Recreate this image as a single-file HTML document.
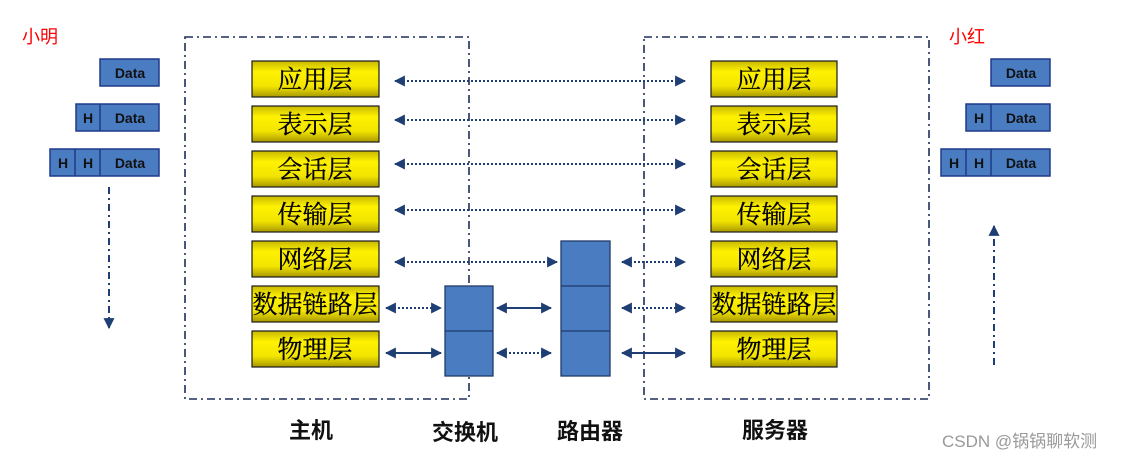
<!DOCTYPE html>
<html><head><meta charset="utf-8"><style>
body{margin:0;background:#fff;width:1129px;height:460px;overflow:hidden}
svg{display:block}
.ly{font-family:"Noto Serif CJK SC","Liberation Serif",serif;font-size:25px;fill:#000;stroke:#000;stroke-width:0.3}
.dt{font-family:"Liberation Sans",sans-serif;font-weight:bold;font-size:14px;fill:#111}
.lb{font-family:"Liberation Sans","Noto Sans CJK SC",sans-serif;font-weight:bold;font-size:22px;fill:#111}
</style></head><body>
<svg width="1129" height="460" xmlns="http://www.w3.org/2000/svg">
<defs>
<linearGradient id="y" x1="0" y1="0" x2="0" y2="1">
<stop offset="0" stop-color="#c8b800"/><stop offset="0.3" stop-color="#fff200"/><stop offset="0.7" stop-color="#f2e400"/><stop offset="1" stop-color="#a89800"/></linearGradient>
<marker id="a" viewBox="0 0 10 10" refX="9" refY="5" markerWidth="5.5" markerHeight="5.5" orient="auto-start-reverse"><path d="M0,0L10,5L0,10z" fill="#1f3f74"/></marker>
</defs>
<text x="22" y="43" font-family="Liberation Sans,Noto Sans CJK SC,sans-serif" font-size="18" fill="#f00">小明</text>
<text x="949" y="43" font-family="Liberation Sans,Noto Sans CJK SC,sans-serif" font-size="18" fill="#f00">小红</text>
<g fill="none" stroke="#1f2f5a" stroke-width="1.6" stroke-dasharray="8,4,2,4">
<rect x="185" y="37" width="284" height="362"/>
<rect x="644" y="37" width="285" height="362"/>
</g>
<g stroke="#1a1a1a" stroke-width="1.2" fill="url(#y)">
<rect x="252" y="61" width="127" height="36"/><rect x="252" y="106" width="127" height="36"/><rect x="252" y="151" width="127" height="36"/><rect x="252" y="196" width="127" height="36"/><rect x="252" y="241" width="127" height="36"/><rect x="252" y="286" width="127" height="36"/><rect x="252" y="331" width="127" height="36"/>
<rect x="711" y="61" width="126" height="36"/><rect x="711" y="106" width="126" height="36"/><rect x="711" y="151" width="126" height="36"/><rect x="711" y="196" width="126" height="36"/><rect x="711" y="241" width="126" height="36"/><rect x="711" y="286" width="126" height="36"/><rect x="711" y="331" width="126" height="36"/>
</g>
<g class="ly" text-anchor="middle">
<text x="315" y="88">应用层</text><text x="315" y="133">表示层</text><text x="315" y="178">会话层</text><text x="315" y="223">传输层</text><text x="315" y="268">网络层</text><text x="315" y="313" textLength="125" lengthAdjust="spacingAndGlyphs">数据链路层</text><text x="315" y="358">物理层</text>
<text x="774" y="88">应用层</text><text x="774" y="133">表示层</text><text x="774" y="178">会话层</text><text x="774" y="223">传输层</text><text x="774" y="268">网络层</text><text x="774" y="313" textLength="125" lengthAdjust="spacingAndGlyphs">数据链路层</text><text x="774" y="358">物理层</text>
</g>
<g fill="#4a7cc2" stroke="#1f3a6a" stroke-width="1.3">
<rect x="445" y="286" width="48" height="90"/><line x1="445" y1="331" x2="493" y2="331"/>
<rect x="561" y="241" width="49" height="135"/><line x1="561" y1="286" x2="610" y2="286"/><line x1="561" y1="331" x2="610" y2="331"/>
</g>
<g stroke="#1f3f74" stroke-width="2" fill="none" marker-start="url(#a)" marker-end="url(#a)">
<g stroke-dasharray="2,2">
<line x1="395" y1="81" x2="685" y2="81"/><line x1="395" y1="120" x2="685" y2="120"/><line x1="395" y1="164" x2="685" y2="164"/><line x1="395" y1="210" x2="685" y2="210"/>
<line x1="395" y1="262" x2="557" y2="262"/><line x1="622" y1="262" x2="685" y2="262"/>
<line x1="386" y1="308" x2="441" y2="308"/><line x1="622" y1="308" x2="685" y2="308"/>
<line x1="497" y1="353" x2="551" y2="353"/>
</g>
<line x1="497" y1="308" x2="551" y2="308"/>
<line x1="386" y1="353" x2="441" y2="353"/><line x1="622" y1="353" x2="685" y2="353"/>
</g>
<g stroke="#1f3f74" stroke-width="2" fill="none" stroke-dasharray="7,4,2,4">
<line x1="109" y1="187" x2="109" y2="328" marker-end="url(#a)"/>
<line x1="994" y1="365" x2="994" y2="226" marker-end="url(#a)"/>
</g>
<g fill="#4a7cc2" stroke="#1f3a8a" stroke-width="1.5">
<rect x="100" y="59" width="59" height="27"/>
<rect x="76" y="104" width="83" height="27"/><line x1="100" y1="104" x2="100" y2="131"/>
<rect x="50" y="149" width="109" height="27"/><line x1="75" y1="149" x2="75" y2="176"/><line x1="100" y1="149" x2="100" y2="176"/>
<rect x="991" y="59" width="59" height="27"/>
<rect x="966" y="104" width="84" height="27"/><line x1="991" y1="104" x2="991" y2="131"/>
<rect x="941" y="149" width="109" height="27"/><line x1="966" y1="149" x2="966" y2="176"/><line x1="991" y1="149" x2="991" y2="176"/>
</g>
<g class="dt" text-anchor="middle">
<text x="130" y="78">Data</text><text x="88" y="123">H</text><text x="130" y="123">Data</text><text x="63" y="168">H</text><text x="88" y="168">H</text><text x="130" y="168">Data</text>
<text x="1021" y="78">Data</text><text x="979" y="123">H</text><text x="1021" y="123">Data</text><text x="954" y="168">H</text><text x="979" y="168">H</text><text x="1021" y="168">Data</text>
</g>
<g class="lb" text-anchor="middle">
<text x="311" y="438">主机</text><text x="465" y="440">交换机</text><text x="590" y="439">路由器</text><text x="775" y="438">服务器</text>
</g>
<text x="942" y="447" font-family="Liberation Sans,Noto Sans CJK SC,sans-serif" font-size="17" fill="#999">CSDN @锅锅聊软测</text>
</svg>
</body></html>
